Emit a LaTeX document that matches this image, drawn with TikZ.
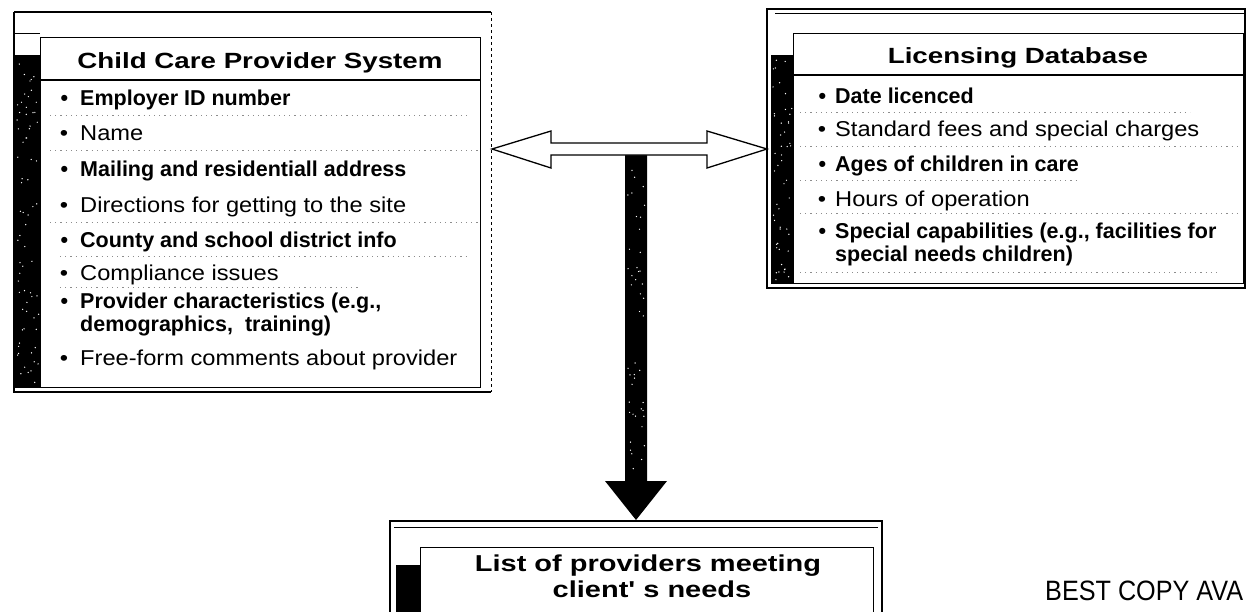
\documentclass[tikz,border=0pt]{standalone}
\usetikzlibrary{calc}
\usepackage{fontspec}
\setmainfont{Liberation Sans}
\newfontfamily\normfont[FakeStretch=1.1]{Liberation Sans}
\newfontfamily\bldfont[FakeStretch=1.0]{Liberation Sans}
\newfontfamily\ttlfont[FakeStretch=1.26]{Liberation Sans}
\newfontfamily\narrowfont[FakeStretch=0.9]{Liberation Sans}
\begin{document}
\begin{tikzpicture}[x=1pt,y=-1pt,
  frame/.style={draw=black,line width=1.2pt},
  innerbox/.style={draw=black,line width=1.3pt,fill=white,anchor=north west,inner sep=0pt},
  shadowbar/.style={fill=black},
  item/.style={anchor=base west,inner sep=0pt,font=\normfont\fontsize{21.5}{24}\selectfont},
  bitem/.style={anchor=base west,inner sep=0pt,font=\bldfont\bfseries\fontsize{21.5}{24}\selectfont},
  ttl/.style={anchor=base,inner sep=0pt,font=\ttlfont\bfseries\fontsize{22}{24}\selectfont},
  bttl/.style={anchor=base,inner sep=0pt,font=\ttlfont\bfseries\fontsize{23}{26}\selectfont},
  noise/.style={draw=black!45,line width=0.6pt,dash pattern=on 1.2pt off 4pt},
  blockarrow/.style={draw=black,line width=1.3pt,fill=white},
  darkarrow/.style={fill=black}
]
\useasboundingbox (0,0) rectangle (1246,611);
\newcommand{\lb}{\llap{\textbullet\hspace{12pt}}}
\newcommand{\rb}{\llap{\textbullet\hspace{9pt}}}

% ---------------- Left panel ----------------
\draw[frame] (14,12) -- (491,12);
\draw[frame] (14,12) -- (14,392) -- (491,392);
\draw[line width=0.8pt,dashed] (491,12) -- (491,392);
\draw[line width=0.8pt] (15,33) -- (40,33);
\fill[shadowbar] (15,55) rectangle (41,388);
\node[innerbox,minimum width=440pt,minimum height=350pt] (lbox) at (40,37) {};
\draw[line width=1.3pt] (40,80) -- (480,80);
\node[ttl] (ltitle) at (260,68) {Child Care Provider System};

\node[bitem] (l1) at (80,105) {\lb Employer ID number};
\node[item]  (l2) at (80,140) {\lb Name};
\node[bitem] (l3) at (80,176) {\lb Mailing and residentiall address};
\node[item]  (l4) at (80,212) {\lb Directions for getting to the site};
\node[bitem] (l5) at (80,247) {\lb County and school district info};
\node[item]  (l6) at (80,280) {\lb Compliance issues};
\node[bitem] (l7) at (80,308) {\lb Provider characteristics (e.g.,};
\node[bitem] (l7b) at (80,331) {demographics,\ \ training)};
\node[item]  (l8) at (80,365) {\lb Free-form comments about provider};

\draw[noise] (50,115) -- (470,115);
\draw[noise] (50,150) -- (478,150);
\draw[noise] (50,222) -- (478,222);
\draw[noise] (60,256) -- (470,256);
\draw[noise] (60,287) -- (360,287);

% ---------------- Right panel ----------------
\draw[frame] (767,9) rectangle (1245,288);
\draw[line width=0.8pt] (775,13) -- (1245,13);
\fill[shadowbar] (771,55) rectangle (794,284);
\node[innerbox,minimum width=450pt,minimum height=250pt] (rbox) at (793,33) {};
\draw[line width=1.3pt] (793,75) -- (1243,75);
\node[ttl] (rtitle) at (1018,63) {Licensing Database};

\node[bitem] (r1) at (835,103) {\rb Date licenced};
\node[item]  (r2) at (835,136) {\rb Standard fees and special charges};
\node[bitem] (r3) at (835,171) {\rb Ages of children in care};
\node[item]  (r4) at (835,206) {\rb Hours of operation};
\node[bitem] (r5) at (835,238) {\rb Special capabilities (e.g., facilities for};
\node[bitem] (r5b) at (835,261) {special needs children)};

\draw[noise] (800,112) -- (1190,112);
\draw[noise] (800,146) -- (1240,146);
\draw[noise] (800,180) -- (1080,180);
\draw[noise] (800,213) -- (1240,213);
\draw[noise] (800,272) -- (1220,272);

% ---------------- Bottom box ----------------
\draw[frame] (390,640) -- (390,521) -- (882,521) -- (882,640);
\draw[line width=0.8pt] (394,527) -- (878,527);
\fill[shadowbar] (396,565) rectangle (421,640);
\node[innerbox,minimum width=453pt,minimum height=80pt] (bbox) at (420,547) {};
\node[bttl] (btitle1) at (648,571) {List of providers meeting};
\node[bttl] (btitle2) at (652,597) {client' s needs};

% ---------------- Arrows ----------------
\coordinate (dl) at (492,149);
\coordinate (dr) at (767,149);
\coordinate (vtop) at (636,155);
\coordinate (vtip) at (636,520);
% vertical dark arrow
\fill[darkarrow] ($(vtop)+(-11,0)$) -- ($(vtop)+(11,0)$) -- ($(vtip)+(11,-39)$) -- ($(vtip)+(31,-39)$)
  -- (vtip) -- ($(vtip)+(-31,-39)$) -- ($(vtip)+(-11,-39)$) -- cycle;
% double block arrow
\draw[blockarrow] (dl) -- ($(dl)+(59,-18)$) -- ($(dl)+(59,-6)$) -- ($(dr)+(-60,-6)$) -- ($(dr)+(-60,-18)$)
  -- (dr) -- ($(dr)+(-60,19)$) -- ($(dr)+(-60,6)$) -- ($(dl)+(59,6)$) -- ($(dl)+(59,19)$) -- cycle;

% speckles on dark areas
\pgfmathsetseed{7}
\foreach \i in {1,...,70}{
  \pgfmathsetmacro{\px}{17+rnd*22}
  \pgfmathsetmacro{\py}{58+rnd*325}
  \fill[white] (\px,\py) circle (0.7pt);
}
\foreach \i in {1,...,50}{
  \pgfmathsetmacro{\px}{773+rnd*19}
  \pgfmathsetmacro{\py}{58+rnd*222}
  \fill[white] (\px,\py) circle (0.7pt);
}
\foreach \i in {1,...,45}{
  \pgfmathsetmacro{\px}{627+rnd*18}
  \pgfmathsetmacro{\py}{160+rnd*318}
  \fill[white] (\px,\py) circle (0.7pt);
}

% ---------------- Stamp ----------------
\node[anchor=base west,inner sep=0pt,font=\narrowfont\fontsize{28}{30}\selectfont] (stamp) at (1045,600) {BEST COPY AVA};
\end{tikzpicture}
\end{document}
